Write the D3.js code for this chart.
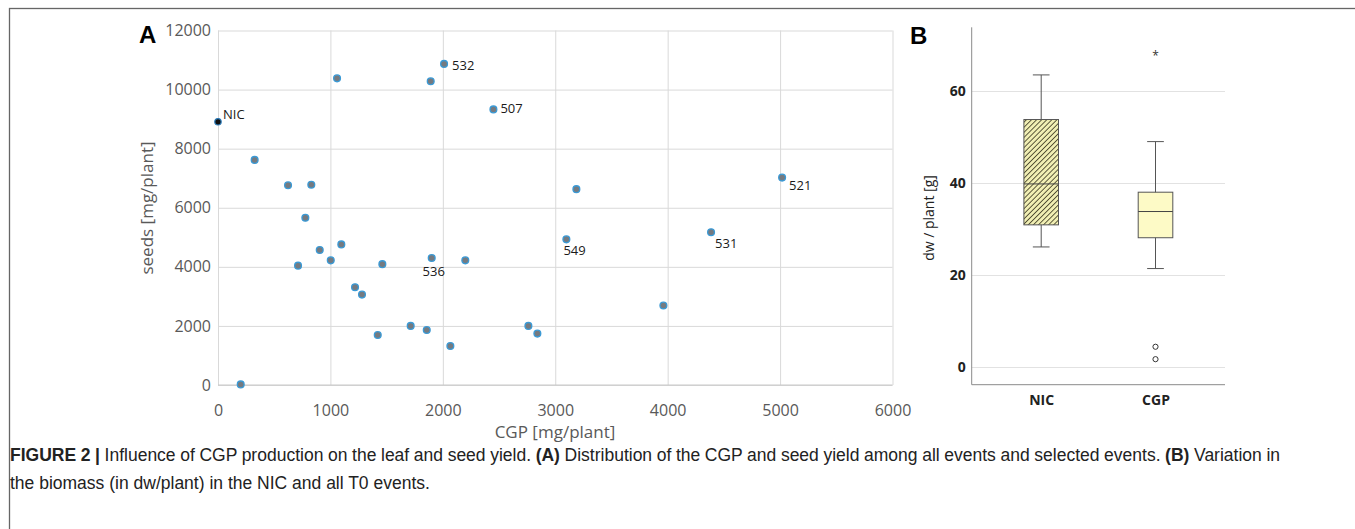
<!DOCTYPE html>
<html>
<head>
<meta charset="utf-8">
<script src="https://cdn.jsdelivr.net/npm/d3@7"></script>
<style>
  body{margin:0;background:#fff;}
  svg{display:block;font-family:"Open Sans",sans-serif;}
</style>
</head>
<body>
<svg id="fig" width="1355" height="529"></svg>
<script>
// panel A: CGP vs seed yield per event
const cgp   = [326,623,830,1059,1892,2011,2450,777,712,905,1097,1003,1462,1901,2200,1219,1281,1421,1714,1857,2067,202,2761,3188,5018,3099,4386,3962,2841];
const seeds = [7620,6760,6780,10380,10280,10870,9330,5660,4040,4570,4760,4220,4090,4300,4220,3310,3060,1690,2000,1860,1320,20,2000,6630,7020,4930,5170,2690,1740];
const eventNames = ["","","","","","532","507","","","","","","","536","","","","","","","","","","","521","549","531","",""];
const nicCgp = 0, nicSeeds = 8910;
const xTicksA = [0,1000,2000,3000,4000,5000,6000];
const yTicksA = [0,2000,4000,6000,8000,10000,12000];

// panel B: biomass box plot
const groups     = ["NIC","CGP"];
const whiskerLow = [26.1,21.4];
const q1         = [30.9,28.1];
const median     = [39.8,33.8];
const q3         = [53.8,38.0];
const whiskerHigh= [63.5,49.0];
const outliers   = [[],[4.4,1.7]];
const extremes   = [[],[67.8]];
const yTicksB = [0,20,40,60];

const svg=d3.select("#fig");

// frame
svg.append("rect").attr("x",9.5).attr("y",8.5).attr("width",1350).attr("height",530)
  .attr("fill","none").attr("stroke","#666").attr("stroke-width",1.3);

// ---------- panel A ----------
const x=d3.scaleLinear().domain([0,6000]).range([218,892.5]);
const y=d3.scaleLinear().domain([0,12000]).range([385,30.5]);
const gA=svg.append("g");

gA.append("g").attr("transform","translate(0,385)")
  .call(d3.axisBottom(x).tickValues(xTicksA).tickSize(-(385-30.5)).tickFormat(""))
  .call(g=>g.select(".domain").remove())
  .call(g=>g.selectAll("line").attr("stroke","#d9d9d9"));
gA.append("g").attr("transform","translate(218,0)")
  .call(d3.axisLeft(y).tickValues(yTicksA).tickSize(-(892.5-218)).tickFormat(""))
  .call(g=>g.select(".domain").remove())
  .call(g=>g.selectAll("line").attr("stroke","#d9d9d9"));
gA.append("line").attr("x1",218).attr("x2",892.5).attr("y1",385).attr("y2",385).attr("stroke","#c8c8c8");

gA.append("g").attr("transform","translate(0,385)")
  .call(d3.axisBottom(x).tickValues(xTicksA).tickSize(0).tickPadding(20).tickFormat(d3.format("d")))
  .call(g=>g.select(".domain").remove())
  .call(g=>g.selectAll("text").attr("fill","#595959").attr("font-size","16px").attr("font-family","Open Sans"));
gA.append("g").attr("transform","translate(218,0)")
  .call(d3.axisLeft(y).tickValues(yTicksA).tickSize(0).tickPadding(7).tickFormat(d3.format("d")))
  .call(g=>g.select(".domain").remove())
  .call(g=>g.selectAll("text").attr("fill","#595959").attr("font-size","16px").attr("font-family","Open Sans"));

gA.append("text").attr("x",555).attr("y",438).attr("text-anchor","middle")
  .attr("fill","#595959").attr("font-size","17px").text("CGP [mg/plant]");
gA.append("text").attr("transform","translate(153,208) rotate(-90)").attr("text-anchor","middle")
  .attr("fill","#595959").attr("font-size","17px").text("seeds [mg/plant]");

const events=cgp.map((c,i)=>({c,s:seeds[i],name:eventNames[i]}));
gA.append("g").selectAll("circle").data(events).join("circle")
  .attr("cx",d=>x(d.c)).attr("cy",d=>y(d.s)).attr("r",3.4)
  .attr("fill","#757a80").attr("stroke","#3a9ad6").attr("stroke-width",1.3);
gA.append("circle").attr("cx",x(nicCgp)).attr("cy",y(nicSeeds)).attr("r",3.2)
  .attr("fill","#111").attr("stroke","#2a7ab8").attr("stroke-width",1.2);

// label offsets (dx, dy, anchor)
const labelPos={"532":[8,6,"start"],"507":[7,4,"start"],"536":[2,18,"middle"],
  "521":[7,12,"start"],"549":[-3,16,"start"],"531":[4,16,"start"]};
gA.append("g").selectAll("text").data(events.filter(d=>d.name)).join("text")
  .attr("x",d=>x(d.c)+labelPos[d.name][0]).attr("y",d=>y(d.s)+labelPos[d.name][1])
  .attr("text-anchor",d=>labelPos[d.name][2])
  .attr("font-size","13px").attr("fill","#1a1a1a").text(d=>d.name);
gA.append("text").attr("x",x(nicCgp)+5).attr("y",y(nicSeeds)-3)
  .attr("font-size","13px").attr("fill","#1a1a1a").text("NIC");

svg.append("text").attr("x",139).attr("y",43).attr("font-family","Liberation Sans")
  .attr("font-weight","bold").attr("font-size","24px").text("A");

// ---------- panel B ----------
const yB=d3.scaleLinear().domain([-3.85,73.85]).range([384.7,27.3]);
const xB=d3.scalePoint().domain(groups).range([971.7,1225]).padding(0.608);
const gB=svg.append("g");

gB.append("g").attr("transform","translate(971.7,0)")
  .call(d3.axisLeft(yB).tickValues(yTicksB).tickSize(-(1225-971.7)).tickFormat(""))
  .call(g=>g.select(".domain").remove())
  .call(g=>g.selectAll("line").attr("stroke","#e2e2e2"));
gB.append("line").attr("x1",971.7).attr("x2",971.7).attr("y1",yB.range()[0]).attr("y2",yB.range()[1]).attr("stroke","#8a8a8a");
gB.append("line").attr("x1",971.7).attr("x2",1225).attr("y1",yB.range()[0]).attr("y2",yB.range()[0]).attr("stroke","#8a8a8a");

gB.append("g").attr("transform","translate(971.7,0)")
  .call(d3.axisLeft(yB).tickValues(yTicksB).tickSize(0).tickPadding(6).tickFormat(d3.format("d")))
  .call(g=>g.select(".domain").remove())
  .call(g=>g.selectAll("text").attr("fill","#222").attr("font-size","14px").attr("font-weight","bold").attr("font-family","Open Sans"));
gB.append("g").attr("transform",`translate(0,${yB.range()[0]})`)
  .call(d3.axisBottom(xB).tickSize(0).tickPadding(10))
  .call(g=>g.select(".domain").remove())
  .call(g=>g.selectAll("text").attr("fill","#222").attr("font-size","14px").attr("font-weight","bold").attr("font-family","Open Sans"));
gB.append("text").attr("transform","translate(934,218) rotate(-90)").attr("text-anchor","middle")
  .attr("fill","#222").attr("font-size","14px").text("dw / plant [g]");

const defs=svg.append("defs");
const pat=defs.append("pattern").attr("id","hatch").attr("patternUnits","userSpaceOnUse")
  .attr("width",3.6).attr("height",3.6).attr("patternTransform","rotate(45)");
pat.append("rect").attr("width",3.6).attr("height",3.6).attr("fill","#f1efb4");
pat.append("line").attr("x1",0).attr("y1",0).attr("x2",0).attr("y2",3.6).attr("stroke","#4d4a30").attr("stroke-width",1.8);

const boxW=34.6, capW=16.7;
const boxes=groups.map((g,i)=>({g,lo:whiskerLow[i],q1:q1[i],med:median[i],q3:q3[i],hi:whiskerHigh[i],out:outliers[i],ext:extremes[i]}));
const bg=gB.selectAll("g.box").data(boxes).join("g").attr("class","box");
bg.append("line").attr("x1",d=>xB(d.g)).attr("x2",d=>xB(d.g)).attr("y1",d=>yB(d.lo)).attr("y2",d=>yB(d.hi)).attr("stroke","#555");
bg.append("line").attr("x1",d=>xB(d.g)-capW/2).attr("x2",d=>xB(d.g)+capW/2).attr("y1",d=>yB(d.hi)).attr("y2",d=>yB(d.hi)).attr("stroke","#555");
bg.append("line").attr("x1",d=>xB(d.g)-capW/2).attr("x2",d=>xB(d.g)+capW/2).attr("y1",d=>yB(d.lo)).attr("y2",d=>yB(d.lo)).attr("stroke","#555");
bg.append("rect").attr("x",d=>xB(d.g)-boxW/2).attr("width",boxW)
  .attr("y",d=>yB(d.q3)).attr("height",d=>yB(d.q1)-yB(d.q3))
  .attr("fill",(d,i)=>i===0?"url(#hatch)":"#fdfac6").attr("stroke","#555");
bg.append("line").attr("x1",d=>xB(d.g)-boxW/2).attr("x2",d=>xB(d.g)+boxW/2).attr("y1",d=>yB(d.med)).attr("y2",d=>yB(d.med)).attr("stroke","#444");
bg.selectAll("circle").data(d=>d.out.map(v=>({g:d.g,v}))).join("circle")
  .attr("cx",d=>xB(d.g)).attr("cy",d=>yB(d.v)).attr("r",2.6).attr("fill","#fff").attr("stroke","#333").attr("stroke-width",1);
bg.selectAll("text.ext").data(d=>d.ext.map(v=>({g:d.g,v}))).join("text").attr("class","ext")
  .attr("x",d=>xB(d.g)).attr("y",d=>yB(d.v)+5).attr("text-anchor","middle")
  .attr("font-size","12px").attr("fill","#333").text("*");

svg.append("text").attr("x",910).attr("y",44).attr("font-family","Liberation Sans")
  .attr("font-weight","bold").attr("font-size","24px").text("B");

// ---------- caption ----------
const cap=svg.append("g").attr("font-family","Liberation Sans").attr("font-size","17.5px").attr("fill","#222");
const l1=cap.append("text").attr("x",10).attr("y",461);
l1.append("tspan").attr("font-weight","bold").text("FIGURE 2 | ");
l1.append("tspan").text("Influence of CGP production on the leaf and seed yield. ");
l1.append("tspan").attr("font-weight","bold").text("(A)");
l1.append("tspan").text(" Distribution of the CGP and seed yield among all events and selected events. ");
l1.append("tspan").attr("font-weight","bold").text("(B)");
l1.append("tspan").text(" Variation in");
// justify first line to the column width
const natural=l1.node().getComputedTextLength();
const spaces=(l1.text().match(/ /g)||[]).length;
l1.attr("word-spacing",((1270-natural)/spaces).toFixed(2));
cap.append("text").attr("x",10).attr("y",489).text("the biomass (in dw/plant) in the NIC and all T0 events.");
</script>
</body>
</html>
